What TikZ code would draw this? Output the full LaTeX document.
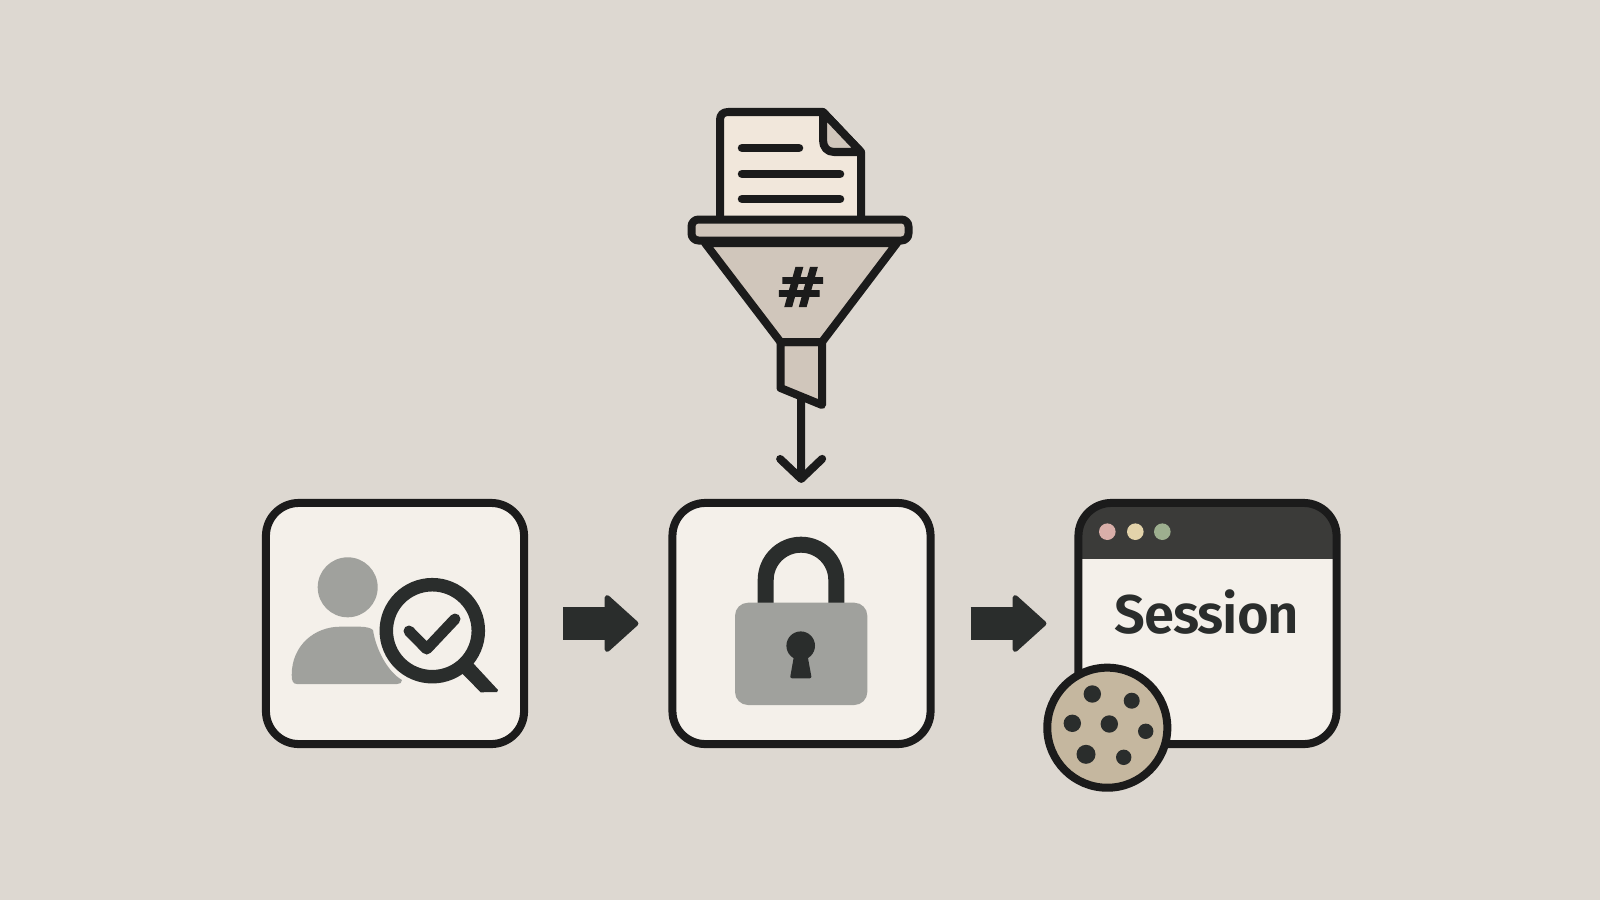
\documentclass[tikz,border=0pt]{standalone}
\usepackage{fontspec}
\setmainfont{Fira Sans}[BoldFont={Fira Sans SemiBold}]
\newfontfamily\hashfont{DejaVu Sans}[BoldFeatures={FakeBold=2}]
\usetikzlibrary{arrows.meta}
\definecolor{bgcol}{HTML}{DDD8D1}
\definecolor{boxcol}{HTML}{F4F0EA}
\definecolor{inkcol}{HTML}{1B1B1B}
\definecolor{darkcol}{HTML}{2A2D2C}
\definecolor{greycol}{HTML}{A0A19D}
\definecolor{barcol}{HTML}{3B3B39}
\definecolor{papercol}{HTML}{F1E7DB}
\definecolor{funnelcol}{HTML}{D0C6BB}
\definecolor{cookiecol}{HTML}{C5B79F}
\tikzset{
    stepbox/.style={draw=inkcol, fill=boxcol, line width=0.8mm, rounded corners=3.3mm,
        minimum width=25.8mm, minimum height=24.1mm, inner sep=0pt},
    outline/.style={draw=inkcol, line width=0.8mm, line join=round},
    textline/.style={draw=inkcol, line width=0.85mm, line cap=round},
    flow/.style={draw=darkcol, line width=3.3mm,
        -{Triangle[length=3.5mm, width=6.2mm, round, line width=0.5mm]}},
    drop/.style={draw=inkcol, line width=0.8mm,
        -{Straight Barb[length=2mm, width=4.2mm, round]}},
}
\begin{document}
\begin{tikzpicture}[x=0.01cm, y=-0.01cm]
    \useasboundingbox[fill=bgcol] (0, 0) rectangle (1600, 900);

    \node (check) at (395, 623.5) [stepbox] {};
    \node (lock) at (801.5, 623.5) [stepbox] {};
    \node (session) at (1207.5, 623.5) [stepbox, path picture={
        \fill[barcol, sharp corners] (path picture bounding box.north west) rectangle +(258, 56.5);
    }] {};
    \coordinate (spout) at (801, 395);

    \draw[flow, shorten <=3.5mm, shorten >=3mm] (check) -- (lock);
    \draw[flow, shorten <=3.6mm, shorten >=2.8mm] (lock) -- (session);
    \draw[drop, shorten >=1.6mm] (spout) -- (lock);

    % document
    \draw[outline, fill=papercol] (720, 225) -- (720, 120)
        .. controls (720, 115) and (723, 112) .. (728, 112)
        -- (823, 112) -- (861, 152) -- (861, 225) -- cycle;
    \draw[outline, fill=funnelcol] (823, 112) -- (823, 140)
        .. controls (823, 147) and (827, 152) .. (834, 152) -- (861, 152) -- cycle;
    \draw[textline] (742, 148) -- (799, 148);
    \draw[textline] (742, 174) -- (840, 174);
    \draw[textline] (742, 199) -- (840, 199);

    % funnel
    \draw[outline, fill=funnelcol] (780.5, 342) -- (780.5, 388) -- (822, 405) -- (822, 342) -- cycle;
    \draw[outline, fill=funnelcol] (705, 243) -- (780.5, 342) -- (822, 342) -- (897, 243) -- cycle;
    \draw[outline, fill=funnelcol, rounded corners=0.7mm] (691.5, 219.5) rectangle (908.5, 240.5);
    \node (hash) at (801, 287) [xscale=1.12, transform shape, text=inkcol,
        font=\hashfont\fontsize{15.5pt}{15.5pt}\selectfont\bfseries] {\#};

    % person and magnifier
    \fill[greycol] (347.7, 587.3) circle (30);
    \fill[greycol] (291.7, 675) .. controls (291.7, 645) and (315, 626.7) .. (340, 626.7)
        -- (360, 626.7) .. controls (366, 626.7) and (371, 628) .. (373, 630)
        .. controls (376, 650) and (388, 672) .. (402, 680)
        .. controls (402, 683) and (400, 684) .. (397, 684)
        -- (297, 684) .. controls (293, 684) and (291.7, 681) .. (291.7, 675) -- cycle;
    \draw[darkcol, line width=1.35mm] (432.3, 630.7) circle (46);
    \draw[darkcol, line width=1.1mm, line cap=round, line join=round]
        (409, 631) -- (426.7, 649) -- (455, 619);
    \fill[darkcol] (472.7, 662.7) -- (498, 690) -- (497, 692) -- (480.7, 692.3) -- (461.7, 673) -- cycle;

    % padlock
    \draw[darkcol, line width=1.6mm] (765.7, 604) -- (765.7, 580)
        arc [start angle=180, end angle=360, radius=35.3] -- (836.3, 604);
    \fill[greycol, rounded corners=1.3mm] (735, 602.7) rectangle (867.3, 705);
    \fill[darkcol] (800.7, 645.7) circle (14.3);
    \fill[darkcol, rounded corners=0.2mm] (795, 650) -- (790, 678.3) -- (811.7, 678.3) -- (806.5, 650) -- cycle;

    % window
    \foreach \xpos/\dotcol in {1107.3/D9AFA9, 1135.3/E3D3AA, 1162.3/9DAF8F} {
        \definecolor{dotfill}{HTML}{\dotcol}
        \fill[dotfill] (\xpos, 531.7) circle (8.3);
    }
    \node (sessiontext) at (1207, 612) [text=darkcol,
        font=\fontsize{15.5pt}{15.5pt}\selectfont\bfseries\addfontfeature{LetterSpace=-2}] {Session};

    % cookie
    \node (cookie) at (1107.3, 727.7) [circle, draw=inkcol, fill=cookiecol, line width=0.8mm,
        minimum size=12mm, inner sep=0pt] {};
    \foreach \xpos/\ypos/\rad in {1092.3/694/8.7, 1131.7/700.7/8, 1072.3/723.3/8.7, 1109.3/724/8.7,
            1145.7/731.3/7.7, 1086/754.3/9.5, 1123.7/757.3/7.7} {
        \fill[darkcol] (\xpos, \ypos) circle (\rad);
    }
\end{tikzpicture}
\end{document}
